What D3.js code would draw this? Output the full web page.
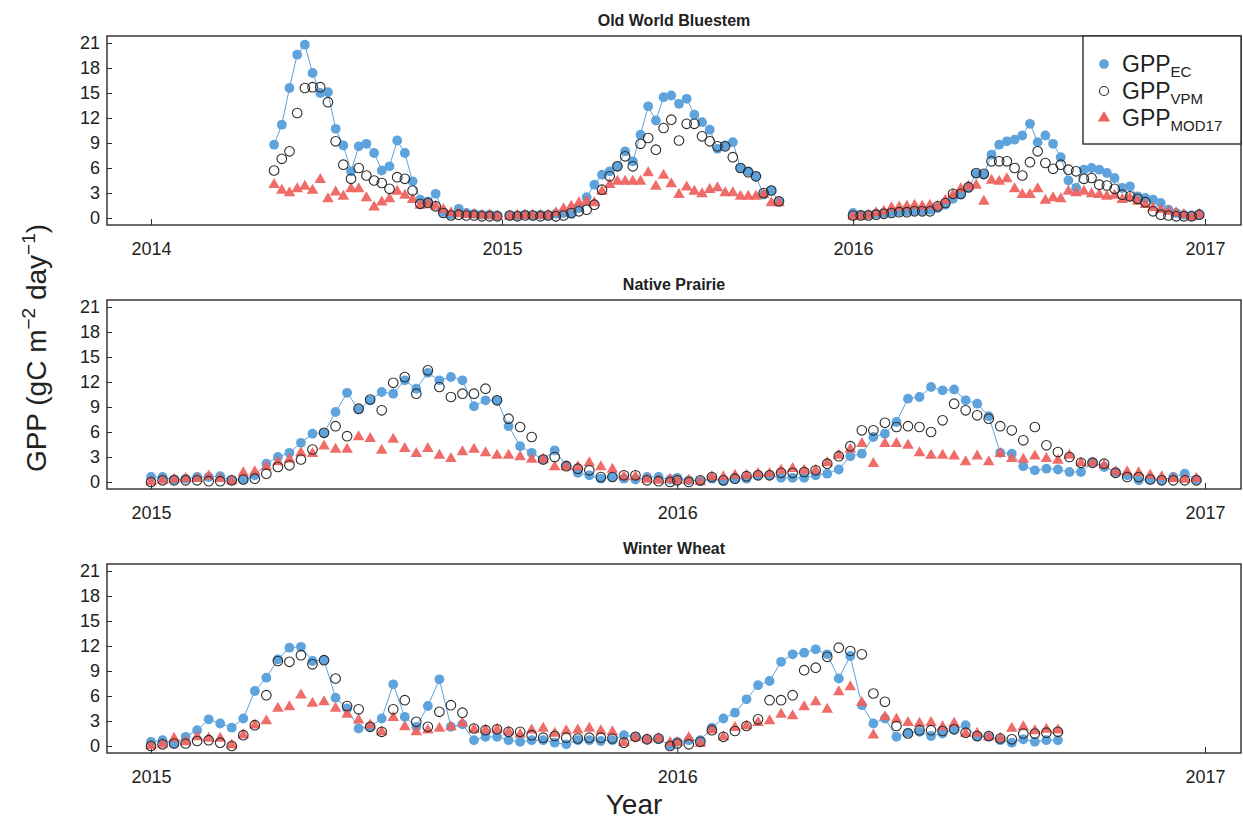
<!DOCTYPE html>
<html>
<head>
<meta charset="utf-8">
<script src="https://cdn.jsdelivr.net/npm/d3@7"></script>
<style>
  body { margin: 0; background: #fff; }
  svg { display: block; font-family: 'Liberation Sans', Arial, sans-serif; }
</style>
</head>
<body>
<figure style="margin:0"></figure>
<script>
const width = 1243
const height = 823

// values are 8-day composites; each segment starts at a given period of the year
// Old World Bluestem
const bluestemEC2014 = [8.8, 11.2, 15.6, 19.6, 20.8, 17.4, 15.0, 15.1, 10.7, 8.7, 5.6, 8.6, 8.9, 7.8, 5.7, 6.2, 9.3, 7.8, 4.4, 2.2, 2.0, 2.9, 0.7, 0.4, 1.1, 0.6, 0.5, 0.4, 0.4, 0.3]
const bluestemVPM2014 = [5.7, 7.1, 8.0, 12.6, 15.6, 15.7, 15.7, 13.9, 9.2, 6.4, 4.7, 6.0, 5.1, 4.5, 4.2, 3.5, 4.9, 4.7, 3.3, 1.7, 1.8, 1.4, 0.6, 0.3, 0.4, 0.3, 0.3, 0.2, 0.2, 0.2]
const bluestemMOD2014 = [4.0, 3.3, 3.0, 3.5, 3.8, 3.3, 4.6, 2.3, 3.1, 2.6, 3.5, 3.5, 2.4, 1.3, 1.9, 2.3, 3.2, 2.7, 2.2, 1.5, 1.7, 1.4, 1.0, 0.6, 0.5, 0.4, 0.4, 0.3, 0.3, 0.2]
const bluestemEC2015 = [0.3, 0.3, 0.4, 0.3, 0.4, 0.3, 0.5, 0.6, 0.5, 1.2, 2.5, 4.0, 5.2, 5.6, 6.2, 8.0, 6.8, 10.0, 13.4, 11.7, 14.5, 14.7, 13.7, 14.3, 12.4, 11.5, 10.6, 8.3, 8.7, 9.1, 6.0, 5.6, 5.0, 2.8, 3.3, 2.0]
const bluestemVPM2015 = [0.3, 0.2, 0.3, 0.3, 0.2, 0.3, 0.2, 0.3, 0.6, 0.8, 1.0, 1.6, 3.4, 5.0, 6.2, 7.4, 6.2, 8.9, 9.6, 8.2, 10.8, 11.8, 9.3, 11.3, 11.3, 9.8, 9.2, 8.6, 8.6, 7.3, 6.0, 5.5, 5.0, 3.0, 3.3, 2.0]
const bluestemMOD2015 = [0.2, 0.3, 0.3, 0.3, 0.3, 0.3, 0.6, 1.1, 1.4, 1.8, 2.0, 1.8, 3.2, 4.0, 4.4, 4.4, 4.4, 4.4, 5.4, 3.8, 5.1, 4.1, 2.8, 3.7, 3.2, 2.9, 3.4, 3.6, 3.0, 3.0, 2.6, 2.6, 2.6, 2.8, 1.8, 1.8]
const bluestemEC2016 = [0.6, 0.4, 0.4, 0.5, 0.6, 0.7, 0.8, 0.8, 0.9, 0.9, 1.0, 1.2, 1.6, 2.3, 2.8, 3.6, 5.3, 5.2, 7.6, 8.8, 9.2, 9.4, 9.9, 11.3, 9.1, 9.9, 8.9, 7.3, 4.5, 3.6, 5.8, 6.0, 5.8, 5.4, 4.8, 3.6, 3.8, 2.6, 2.4, 2.2, 1.8, 1.0, 0.6, 0.4, 0.3, 0.4]
const bluestemVPM2016 = [0.3, 0.3, 0.3, 0.4, 0.5, 0.6, 0.7, 0.7, 0.8, 0.8, 0.8, 1.4, 1.8, 2.9, 2.9, 3.7, 5.4, 5.3, 6.8, 6.8, 6.8, 6.0, 5.1, 6.7, 8.0, 6.6, 5.9, 6.4, 5.8, 5.6, 4.7, 4.8, 4.0, 3.9, 3.5, 2.8, 2.6, 2.3, 1.9, 0.8, 0.4, 0.3, 0.2, 0.2, 0.2, 0.4]
const bluestemMOD2016 = [0.2, 0.2, 0.3, 0.6, 0.8, 1.2, 1.3, 1.4, 1.5, 1.4, 1.5, 1.4, 2.1, 2.8, 3.5, 3.8, 3.9, 2.0, 4.5, 4.4, 4.7, 3.5, 2.8, 2.8, 3.5, 2.1, 2.4, 2.3, 3.2, 3.0, 3.2, 2.9, 2.8, 2.6, 2.7, 2.2, 2.4, 2.0, 1.6, 1.2, 1.0, 0.8, 0.6, 0.4, 0.1, 0.4]

// Native Prairie
const prairieEC2015 = [0.6, 0.6, 0.3, 0.4, 0.6, 0.6, 0.7, 0.2, 0.3, 0.8, 2.2, 3.0, 3.5, 4.7, 5.8, 5.9, 8.4, 10.7, 8.7, 9.8, 10.8, 10.6, 12.2, 11.2, 13.1, 12.2, 12.6, 12.2, 9.1, 9.8, 9.8, 6.7, 4.3, 3.5, 2.7, 3.8, 2.0, 1.1, 0.8, 0.4, 0.6, 0.4, 0.3, 0.6, 0.6, 0.3]
const prairieVPM2015 = [0.0, 0.2, 0.2, 0.2, 0.2, 0.1, 0.1, 0.2, 0.3, 0.4, 1.0, 1.8, 2.0, 2.7, 3.9, 5.9, 6.7, 5.5, 8.8, 9.9, 8.6, 11.9, 12.6, 10.6, 13.4, 11.4, 10.2, 10.6, 10.6, 11.2, 9.8, 7.6, 6.6, 5.4, 2.7, 3.0, 1.9, 1.6, 1.4, 0.6, 0.6, 0.8, 0.8, 0.2, 0.1, 0.0]
const prairieMOD2015 = [0.0, 0.2, 0.3, 0.4, 0.4, 0.7, 0.4, 0.1, 1.1, 1.2, 1.8, 2.4, 2.7, 3.5, 3.4, 4.3, 3.9, 3.9, 5.4, 5.2, 3.8, 5.1, 4.0, 3.4, 4.0, 3.2, 2.8, 3.6, 3.9, 3.5, 3.2, 3.2, 3.0, 2.7, 2.7, 1.8, 1.8, 1.8, 2.3, 1.8, 1.5, 0.6, 0.6, 0.3, 0.2, 0.3]
const prairieEC2016 = [0.5, 0.2, 0.1, 0.4, 0.1, 0.4, 0.4, 0.8, 0.8, 0.5, 0.5, 0.5, 0.8, 1.0, 1.5, 3.1, 3.4, 5.4, 5.8, 7.2, 10.0, 10.2, 11.4, 11.0, 11.1, 9.8, 9.4, 7.9, 3.5, 3.4, 1.9, 1.4, 1.6, 1.5, 1.2, 1.2, 2.4, 1.8, 1.2, 0.8, 0.2, 0.3, 0.2, 0.6, 1.0, 0.3]
const prairieVPM2016 = [0.2, 0.0, 0.2, 0.6, 0.2, 0.4, 0.7, 0.8, 0.8, 1.1, 1.1, 1.2, 1.4, 2.2, 3.1, 4.3, 6.2, 6.2, 7.1, 6.6, 6.7, 6.6, 6.0, 7.4, 9.4, 8.6, 8.0, 7.6, 6.7, 6.2, 5.0, 6.6, 4.4, 3.6, 3.0, 2.3, 2.3, 2.2, 1.1, 0.6, 0.6, 0.3, 0.2, 0.2, 0.2, 0.2]
const prairieMOD2016 = [0.2, 0.2, 0.0, 0.6, 0.6, 0.8, 0.8, 1.0, 1.0, 1.4, 1.6, 1.4, 1.4, 2.3, 3.2, 3.9, 4.6, 2.2, 4.6, 4.6, 4.4, 3.5, 3.2, 3.2, 3.1, 2.4, 3.1, 2.4, 3.4, 2.8, 2.7, 3.1, 2.8, 2.6, 3.2, 2.3, 2.3, 2.0, 1.2, 1.2, 1.1, 0.8, 0.6, 0.4, 0.3, 0.4]

// Winter Wheat
const wheatEC2015 = [0.5, 0.7, 0.3, 1.1, 1.9, 3.2, 2.7, 2.2, 3.3, 6.6, 8.2, 10.4, 11.8, 11.9, 10.2, 10.3, 5.8, 4.5, 2.1, 2.3, 3.3, 7.4, 3.5, 2.3, 4.8, 8.0, 2.3, 2.6, 0.7, 1.1, 1.1, 0.7, 0.5, 0.7, 0.7, 0.4, 0.2, 0.7, 0.7, 0.6, 0.7, 1.3, 1.1, 0.8, 0.8, 0.1]
const wheatVPM2015 = [0.0, 0.2, 0.3, 0.3, 0.6, 0.7, 0.4, 0.0, 1.3, 2.5, 6.1, 10.2, 10.1, 10.9, 9.8, 10.3, 8.1, 4.8, 4.4, 2.3, 1.7, 4.4, 5.5, 2.9, 2.3, 4.1, 4.9, 4.0, 2.1, 1.9, 2.0, 1.7, 1.7, 1.3, 1.0, 1.2, 1.0, 0.9, 1.0, 1.0, 0.9, 0.4, 1.1, 0.8, 0.9, 0.0]
const wheatMOD2015 = [0.0, 0.2, 0.9, 0.5, 1.1, 0.9, 0.9, 0.1, 1.3, 2.5, 3.0, 4.5, 4.7, 6.1, 5.1, 5.3, 4.5, 3.8, 3.1, 2.5, 1.7, 3.4, 2.3, 1.7, 1.9, 2.1, 2.3, 2.7, 2.0, 1.9, 2.0, 1.7, 1.4, 1.9, 2.1, 1.5, 1.8, 1.9, 2.1, 1.8, 1.7, 0.4, 1.0, 0.8, 0.9, 0.4]
const wheatEC2016 = [0.5, 0.7, 0.7, 2.2, 3.3, 4.0, 5.6, 7.3, 7.8, 10.1, 11.0, 11.2, 11.6, 11.0, 8.1, 10.8, 4.9, 2.7, 3.3, 1.1, 1.6, 1.7, 1.2, 1.5, 2.0, 2.5, 1.1, 1.1, 0.7, 0.4, 0.8, 0.5, 0.7, 0.7]
const wheatVPM2016 = [0.3, 0.2, 0.5, 1.9, 1.1, 1.8, 2.4, 3.2, 5.5, 5.5, 6.1, 9.1, 9.4, 10.7, 11.8, 11.4, 11.0, 6.3, 5.3, 2.4, 1.5, 1.9, 1.9, 1.8, 2.0, 1.6, 1.2, 1.2, 0.9, 0.8, 1.5, 1.5, 1.6, 1.7]
const wheatMOD2016 = [0.4, 1.0, 0.3, 1.9, 1.1, 2.2, 2.4, 2.8, 3.0, 3.8, 3.6, 4.7, 5.3, 4.4, 6.5, 7.1, 5.2, 1.3, 3.5, 3.2, 2.8, 2.7, 2.8, 2.3, 2.7, 1.5, 1.5, 1.1, 0.9, 2.1, 2.3, 1.8, 2.0, 1.9]

const yTicks = [0, 3, 6, 9, 12, 15, 18, 21]

const panels = [
  {
    title: 'Old World Bluestem',
    firstYear: 2014,
    segments: [
      { year: 2014, start: 16, ec: bluestemEC2014, vpm: bluestemVPM2014, mod: bluestemMOD2014 },
      { year: 2015, start: 1, ec: bluestemEC2015, vpm: bluestemVPM2015, mod: bluestemMOD2015 },
      { year: 2016, start: 0, ec: bluestemEC2016, vpm: bluestemVPM2016, mod: bluestemMOD2016 }
    ]
  },
  {
    title: 'Native Prairie',
    firstYear: 2015,
    segments: [
      { year: 2015, start: 0, ec: prairieEC2015, vpm: prairieVPM2015, mod: prairieMOD2015 },
      { year: 2016, start: 0, ec: prairieEC2016, vpm: prairieVPM2016, mod: prairieMOD2016 }
    ]
  },
  {
    title: 'Winter Wheat',
    firstYear: 2015,
    segments: [
      { year: 2015, start: 0, ec: wheatEC2015, vpm: wheatVPM2015, mod: wheatMOD2015 },
      { year: 2016, start: 0, ec: wheatEC2016, vpm: wheatVPM2016, mod: wheatMOD2016 }
    ]
  }
]

const blue = '#5ea3dc'
const red = '#ef5f5b'
const ink = '#2b2b2b'

const frameLeft = 107
const frameRight = 1241
const frameH = 189
const panelTops = [36, 300, 564]

const svg = d3.select('figure').append('svg')
  .attr('width', width)
  .attr('height', height)

// turn a segment series into dated points
const toPoints = (seg, values) => values.map((v, k) =>
  ({ date: new Date(seg.year, 0, 1 + 8 * (seg.start + k)), v }))

panels.forEach((p, pi) => {
  const top = panelTops[pi]
  const bottom = top + frameH

  const x = d3.scaleTime()
    .domain([new Date(p.firstYear, 0, 1), new Date(2017, 0, 1)])
    .range([151, 1205])
  const y = d3.scaleLinear()
    .domain([0, 21])
    .range([bottom - 7, top + 7])

  const g = svg.append('g')

  // frame
  g.append('rect')
    .attr('x', frameLeft)
    .attr('y', top)
    .attr('width', frameRight - frameLeft)
    .attr('height', frameH)
    .attr('fill', 'none')
    .attr('stroke', ink)
    .attr('stroke-width', 1.4)

  // y axis (ticks point inward)
  const yAxis = g.append('g')
    .attr('transform', `translate(${frameLeft},0)`)
    .call(d3.axisLeft(y).tickValues(yTicks).tickSizeInner(-5).tickSizeOuter(0).tickPadding(7))
  yAxis.select('.domain').remove()
  yAxis.selectAll('line').attr('stroke', ink)
  yAxis.selectAll('text')
    .attr('font-size', 18)
    .attr('font-family', 'Liberation Sans, Arial, sans-serif')
    .attr('fill', '#222')

  // x axis
  const years = d3.range(p.firstYear, 2018).map(yr => new Date(yr, 0, 1))
  const xAxis = g.append('g')
    .attr('transform', `translate(0,${bottom})`)
    .call(d3.axisBottom(x).tickValues(years).tickFormat(d3.timeFormat('%Y'))
      .tickSizeInner(-6).tickSizeOuter(0).tickPadding(17))
  xAxis.select('.domain').remove()
  xAxis.selectAll('line').attr('stroke', ink)
  xAxis.selectAll('text')
    .attr('font-size', 18)
    .attr('font-family', 'Liberation Sans, Arial, sans-serif')
    .attr('fill', '#222')

  // title
  g.append('text')
    .attr('x', (frameLeft + frameRight) / 2)
    .attr('y', top - 10)
    .attr('text-anchor', 'middle')
    .attr('font-size', 16)
    .attr('font-weight', 'bold')
    .attr('fill', '#222')
    .text(p.title)

  const line = d3.line()
    .x(d => x(d.date))
    .y(d => y(d.v))

  const triangle = d3.symbol().type(d3.symbolTriangle).size(58)

  p.segments.forEach(seg => {
    const ec = toPoints(seg, seg.ec)
    g.append('path')
      .datum(ec)
      .attr('d', line)
      .attr('fill', 'none')
      .attr('stroke', blue)
      .attr('stroke-width', 1)
    g.append('g')
      .selectAll('circle')
      .data(ec)
      .join('circle')
      .attr('cx', d => x(d.date))
      .attr('cy', d => y(d.v))
      .attr('r', 4.9)
      .attr('fill', blue)
  })

  p.segments.forEach(seg => {
    g.append('g')
      .selectAll('path')
      .data(toPoints(seg, seg.mod))
      .join('path')
      .attr('d', triangle)
      .attr('transform', d => `translate(${x(d.date)},${y(d.v)})`)
      .attr('fill', red)
      .attr('fill-opacity', 0.92)
  })

  p.segments.forEach(seg => {
    g.append('g')
      .selectAll('circle')
      .data(toPoints(seg, seg.vpm))
      .join('circle')
      .attr('cx', d => x(d.date))
      .attr('cy', d => y(d.v))
      .attr('r', 4.8)
      .attr('fill', 'none')
      .attr('stroke', ink)
      .attr('stroke-width', 1.1)
  })
})

// legend
const legend = svg.append('g')
legend.append('rect')
  .attr('x', 1083)
  .attr('y', 36)
  .attr('width', 158)
  .attr('height', 108)
  .attr('fill', '#fff')
  .attr('stroke', ink)
  .attr('stroke-width', 1.4)

const legendItems = [
  { sub: 'EC', kind: 'ec' },
  { sub: 'VPM', kind: 'vpm' },
  { sub: 'MOD17', kind: 'mod' }
]

legendItems.forEach((item, i) => {
  const cy = 64 + i * 27
  if (item.kind === 'ec') {
    legend.append('circle').attr('cx', 1104).attr('cy', cy).attr('r', 4.8).attr('fill', blue)
  } else if (item.kind === 'vpm') {
    legend.append('circle').attr('cx', 1104).attr('cy', cy).attr('r', 4.5)
      .attr('fill', 'none').attr('stroke', ink).attr('stroke-width', 1.1)
  } else {
    legend.append('path').attr('d', d3.symbol().type(d3.symbolTriangle).size(64))
      .attr('transform', `translate(1104,${cy})`).attr('fill', red)
  }
  const t = legend.append('text')
    .attr('x', 1122)
    .attr('y', cy + 8)
    .attr('font-size', 23)
    .attr('fill', '#222')
  t.append('tspan').text('GPP')
  t.append('tspan').attr('font-size', 15).attr('dy', 5).text(item.sub)
})

// axis titles
const yLabel = svg.append('text')
  .attr('transform', 'translate(46,348) rotate(-90)')
  .attr('text-anchor', 'middle')
  .attr('font-size', 28)
  .attr('fill', '#222')
yLabel.append('tspan').text('GPP (gC m')
yLabel.append('tspan').attr('font-size', 19).attr('dy', -11).text('\u22122')
yLabel.append('tspan').attr('dy', 11).text(' day')
yLabel.append('tspan').attr('font-size', 19).attr('dy', -11).text('\u22121')
yLabel.append('tspan').attr('dy', 11).text(')')

svg.append('text')
  .attr('x', 634)
  .attr('y', 814)
  .attr('text-anchor', 'middle')
  .attr('font-size', 28)
  .attr('fill', '#222')
  .text('Year')
</script>
</body>
</html>
